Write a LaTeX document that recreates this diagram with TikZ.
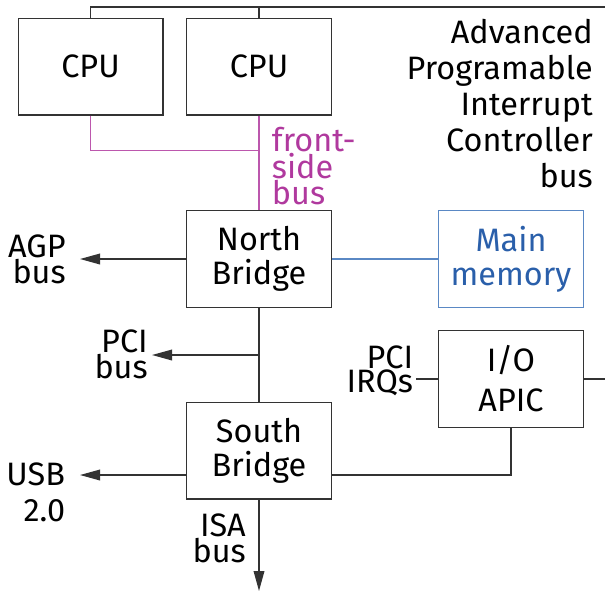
\documentclass[tikz,border=0pt]{standalone}
\usepackage{fontspec}
\setmainfont{Fira Sans}
\usetikzlibrary{positioning,arrows.meta}
\definecolor{fsbcol}{HTML}{B0399E}
\definecolor{memcol}{HTML}{2A5FAA}
\definecolor{memline}{HTML}{5A88C4}
\newcommand\chipfont{\fontsize{24.3}{25.5}\selectfont}
\newcommand\tagfont{\fontsize{24.3}{17.6}\selectfont}
\newcommand\widefont{\fontsize{24.3}{27}\selectfont}
\tikzset{
  chip/.style={draw=black!80, line width=1pt, minimum width=108.5pt,
    minimum height=72.5pt, inner sep=0pt, align=center, font=\chipfont},
  wire/.style={draw=black!80, line width=1pt},
  fsb/.style={draw=fsbcol!85, line width=1pt},
  bus/.style={wire, -{Triangle[length=15pt, width=8pt]}},
  tag/.style={inner sep=0pt, align=right, font=\tagfont},
}
\begin{document}
\begin{tikzpicture}[x=0.75pt, y=-0.75pt]
  \useasboundingbox (0,0) rectangle (605,593);

  % the chips
  \node [chip] (cpua) at (90.5, 66.5) {CPU};
  \node [chip] (cpub) at (259, 66.5) {CPU};
  \node [chip] (nb) at (259, 259) {North\\Bridge};
  \node [chip, draw=memline, text=memcol] (mem) at (511, 259) {Main\\memory};
  \node [chip] (ioapic) at (511, 379) {I/O\\[4.5pt]APIC};
  \node [chip] (sb) at (259, 450.5) {South\\Bridge};

  % free ends
  \coordinate (apicend) at (605, 7);
  \coordinate (fsbjoin) at (259, 150.7);
  \coordinate (agpend) at (80, 259);
  \coordinate (pcijoin) at (259, 355);
  \coordinate (pciend) at (152, 355);
  \coordinate (irqend) at (416, 379);
  \coordinate (ioout) at (605, 379);
  \coordinate (sbport) at (331, 475);
  \coordinate (usbend) at (80, 475);
  \coordinate (isaend) at (259, 591);

  % APIC bus
  \draw [wire] (cpua.north) |- (apicend);
  \draw [wire] (cpub.north) -- (cpub.north |- apicend);
  \node [inner sep=0pt, anchor=north east, align=right, font=\widefont]
    (apiclbl) at (593, 19) {Advanced\\Programable\\Interrupt\\Controller\\bus};

  % front-side bus
  \draw [fsb] (cpua.south) |- (fsbjoin);
  \draw [fsb] (cpub.south) -- (nb.north);
  \node [tag, align=left, anchor=north west, text=fsbcol]
    (fsblbl) at ([xshift=9.5pt, yshift=-8.5pt]cpub.south) {front-\\side\\bus};

  \draw [memline, line width=1pt] (nb.east) -- (mem.west);
  \draw [wire] (nb.south) -- (sb.north);

  \draw [bus] (nb.west) -- (agpend);
  \node [tag, anchor=east] (agp) at ([xshift=-10.5pt]agpend) {AGP\\bus};

  \draw [bus] (pcijoin) -- (pciend);
  \node [tag, anchor=east] (pci) at ([xshift=-3pt, yshift=0.5pt]pciend) {PCI\\bus};

  \draw [wire] (irqend) -- (ioapic.west);
  \node [tag, anchor=east] (irq) at ([xshift=-2pt, yshift=6pt]irqend) {PCI\\IRQs};
  \draw [wire] (ioapic.east) -- (ioout);
  \draw [wire] (ioapic.south) |- (sbport);

  \draw [bus] (sb.west |- sbport) -- (usbend);
  \node [inner sep=0pt, anchor=east, align=right, font=\widefont]
    (usb) at ([xshift=-11pt, yshift=-13pt]usbend) {USB\\2.0};

  \draw [bus] (sb.south) -- (isaend);
  \node [tag, anchor=north east] (isa) at ([xshift=-9.75pt, yshift=-10.5pt]sb.south) {ISA\\bus};
\end{tikzpicture}
\end{document}
